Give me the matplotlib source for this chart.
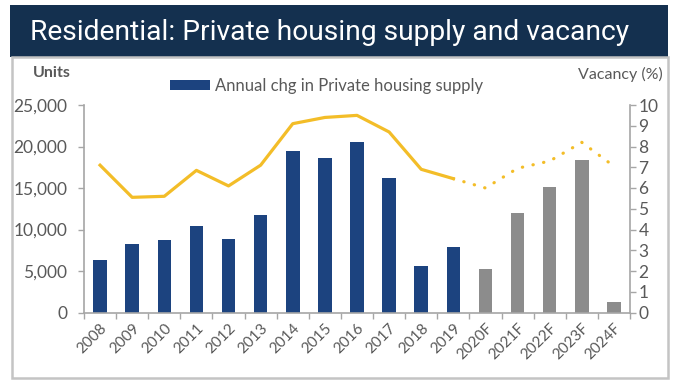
import matplotlib.pyplot as plt
from matplotlib.patches import Rectangle
import numpy as np

years = ['2008', '2009', '2010', '2011', '2012', '2013', '2014', '2015', '2016',
         '2017', '2018', '2019', '2020F', '2021F', '2022F', '2023F', '2024F']
supply = [6300, 8200, 8700, 10450, 8850, 11700, 19400, 18600, 20600,
          16200, 5600, 7950, 5200, 11950, 15150, 18400, 1300]
n_actual = 12
vacancy_actual = [7.1, 5.55, 5.6, 6.85, 6.1, 7.1, 9.1, 9.4, 9.5, 8.7, 6.9, 6.45]
vacancy_fcst = [6.45, 6.0, 6.95, 7.3, 8.2, 7.05]   # 2019 .. 2024F

navy = '#1c437f'
grey = '#8c8c8c'
gold = '#f3bd28'
txt = '#595959'
axcol = '#a6a6a6'

plt.rcParams['font.family'] = ['Lato', 'DejaVu Sans']

fig = plt.figure(figsize=(6.8, 3.86), dpi=100)

# title banner and frame
fig.patches.append(Rectangle((10/680, 1-57/386), 658/680, 52/386, transform=fig.transFigure,
                             facecolor='#14304f', edgecolor='none'))
fig.patches.append(Rectangle((12/680, 1-378/386), 656/680, 321/386, transform=fig.transFigure,
                             facecolor='none', edgecolor='#c4c4c4', lw=1.8))
fig.text(30/680, 1-32/386, 'Residential: Private housing supply and vacancy', color='white',
         fontsize=20.3, va='center', ha='left', family=['Roboto', 'DejaVu Sans'])

ax = fig.add_axes([84/680, 1-312.5/386, 546/680, 207.5/386])
x = np.arange(len(years))
cols = [navy] * n_actual + [grey] * (len(years) - n_actual)
bars = ax.bar(x, supply, width=0.42, color=cols)
ax.set_xlim(-0.5, len(years) - 0.5)
ax.set_ylim(0, 25000)
ax.set_yticks(range(0, 25001, 5000))
ax.set_yticklabels([f'{v:,}' for v in range(0, 25001, 5000)])
ax.set_xticks(x)
ax.set_xticklabels(years, rotation=45, ha='right', rotation_mode='anchor')
ax.set_xticks(np.arange(-0.5, len(years)), minor=True)
ax.tick_params(axis='x', which='major', length=0, pad=6, labelsize=11, labelcolor=txt)
ax.tick_params(axis='x', which='minor', length=4, color=axcol, width=1)
ax.tick_params(axis='y', length=4, color=axcol, width=1, labelsize=12.5, labelcolor=txt, pad=8)
for s in ['top', 'right']:
    ax.spines[s].set_visible(False)
for s in ['left', 'bottom']:
    ax.spines[s].set_color(axcol)
    ax.spines[s].set_linewidth(1.2)

ax2 = ax.twinx()
ax2.plot(x[:n_actual], vacancy_actual, color=gold, lw=2.3, solid_joinstyle='round')
ax2.plot(x[n_actual-1:], vacancy_fcst, color=gold, lw=2.3, linestyle=(0, (0.1, 3.3)),
         dash_capstyle='round')
ax2.set_ylim(0, 10)
ax2.set_yticks(range(0, 11))
ax2.tick_params(axis='y', length=4, color=axcol, width=1, labelsize=12.5, labelcolor=txt, pad=2)
for s in ['top', 'left', 'bottom']:
    ax2.spines[s].set_visible(False)
ax2.spines['right'].set_color(axcol)
ax2.spines['right'].set_linewidth(1.2)

fig.text(52/680, 1-73/386, 'Units', color=txt, fontsize=11.5, ha='center', va='center', fontweight='bold')
fig.text(663/680, 1-74/386, 'Vacancy (%)', color=txt, fontsize=11.5, ha='right', va='center')
ax.legend([bars[0]], ['Annual chg in Private housing supply'], loc='center left',
          bbox_to_anchor=(155/680, 1-86/386), bbox_transform=fig.transFigure, frameon=False,
          fontsize=12, labelcolor=txt, handlelength=2.4, handleheight=0.6, handletextpad=0.3)

fig.savefig('out.png', dpi=100)
